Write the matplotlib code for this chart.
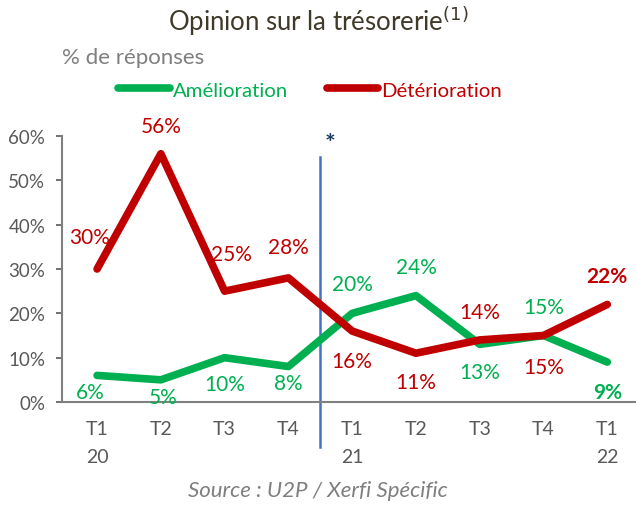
import numpy as np
import matplotlib
matplotlib.use('Agg')
import matplotlib.pyplot as plt
from matplotlib.lines import Line2D

plt.rcParams['font.family'] = ['Lato', 'DejaVu Sans']

# data
quarters = ['T1\n20', 'T2', 'T3', 'T4', 'T1\n21', 'T2', 'T3', 'T4', 'T1\n22']
amelioration = [6, 5, 10, 8, 20, 24, 13, 15, 9]
deterioration = [30, 56, 25, 28, 16, 11, 14, 15, 22]

green = '#00B050'
red = '#C00000'
gray = '#595959'

# label offsets in pixels (dx, dy), dy positive = up
off_red = [(-7, 32), (0, 28), (7, 37), (0, 31), (0, -30), (0, -29), (0, 28), (0, -32), (0, 28)]
off_green = [(-7, -17), (2, -17), (0, -26), (0, -16), (0, 29), (0, 29), (0, -28), (0, 28), (0, -30)]

fig = plt.figure(figsize=(6.36, 5.06), dpi=100)
ax = fig.add_axes([62/636, 1-403/506, 574/636, 266/506])

x = np.arange(len(quarters))
ax.plot(x, amelioration, color=green, lw=5.5, solid_capstyle='round', zorder=3)
ax.plot(x, deterioration, color=red, lw=5.5, solid_capstyle='round', zorder=4)

n = len(x)
for i in range(n):
    bold = 'bold' if i == n-1 else 'normal'
    dx, dy = off_red[i]
    ax.annotate(f'{deterioration[i]}%', (x[i], deterioration[i]), xytext=(dx*0.72, dy*0.72),
                textcoords='offset points', ha='center', va='center', color=red,
                fontsize=15, fontweight=bold, zorder=5)
    dx, dy = off_green[i]
    ax.annotate(f'{amelioration[i]}%', (x[i], amelioration[i]), xytext=(dx*0.72, dy*0.72),
                textcoords='offset points', ha='center', va='center', color=green,
                fontsize=15, fontweight=bold, zorder=5)

ax.set_xlim(-0.55, 8.45)
ax.set_ylim(0, 60)
ax.set_yticks(range(0, 61, 10))
ax.set_yticklabels([f'{v}%' for v in range(0, 61, 10)])
ax.set_xticks(x)
ax.set_xticklabels(quarters, linespacing=1.75)
ax.tick_params(axis='y', colors=gray, labelsize=13.5, length=4, width=1.2, pad=8)
ax.tick_params(axis='x', colors=gray, labelsize=14, length=0, pad=13)
for s in ['top', 'right']:
    ax.spines[s].set_visible(False)
for s in ['left', 'bottom']:
    ax.spines[s].set_color('#808080')
    ax.spines[s].set_linewidth(1.5)

# separator line
ax.plot([3.5, 3.5], [-10.2, 55.3], color='#4472C4', lw=1.8, clip_on=False, zorder=2)
ax.text(3.66, 58.3, '*', color='#1F3864', fontsize=18, fontweight='bold', ha='center', va='center')

fig.text(0.5, 1-21/506, 'Opinion sur la trésorerie$^{(1)}$', ha='center', va='center',
         fontsize=18.5, color='#403A2A')
fig.text(62/636, 1-58/506, '% de réponses', ha='left', va='center', fontsize=16, color='#7F7F7F')

handles = [Line2D([], [], color=green, lw=5.5, solid_capstyle='round'),
           Line2D([], [], color=red, lw=5.5, solid_capstyle='round')]
leg = fig.legend(handles, ['Amélioration', 'Détérioration'], loc='center', bbox_to_anchor=(310/636, 1-91/506),
                 ncol=2, frameon=False, fontsize=14.7, handlelength=2.5, handletextpad=0.15, columnspacing=1.9)
for t, c in zip(leg.get_texts(), [green, red]):
    t.set_color(c)

fig.text(0.5, 1-491/506, 'Source : U2P / Xerfi Spécific', ha='center', va='center', fontsize=16,
         color='#7F7F7F', style='italic')

fig.savefig('out.png', dpi=100)
